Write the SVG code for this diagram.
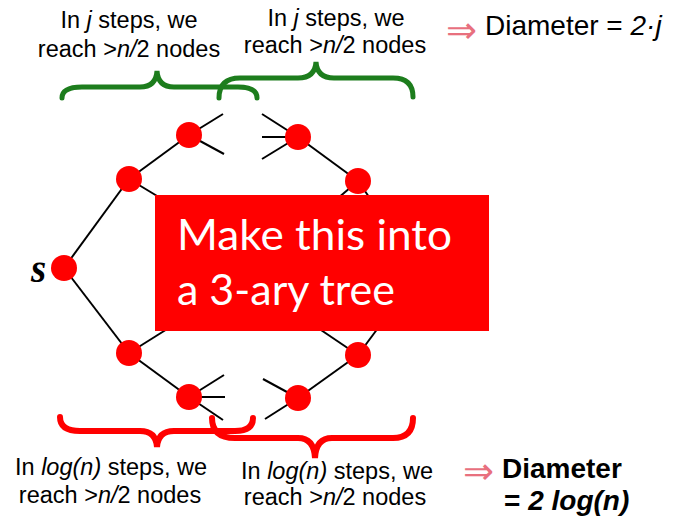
<svg xmlns="http://www.w3.org/2000/svg" width="683" height="519" viewBox="0 0 683 519">
<style>
.edge{stroke:#000;stroke-width:2;fill:none}
.node{fill:#ff0000}
.lbl{font-family:"Liberation Sans",Arial,sans-serif;font-size:23.5px;fill:#000;text-anchor:middle}
.dia{font-family:"Liberation Sans",Arial,sans-serif;font-size:28px;fill:#000}
.arr{font-family:"DejaVu Sans",sans-serif;font-size:37px;fill:#e8707e}
.gb{stroke:#1d7d1d;stroke-width:5;fill:none;stroke-linecap:round}
.rb{stroke:#ff0000;stroke-width:6;fill:none;stroke-linecap:round}
.box{font-family:Lato,"Open Sans",sans-serif;font-size:42px;fill:#fff}
</style>
<rect width="683" height="519" fill="#fff"/>
<g id="connectors">
<line class="edge" x1="64" y1="268" x2="129" y2="179"/>
<line class="edge" x1="64" y1="268" x2="129" y2="353"/>
<line class="edge" x1="129" y1="179" x2="189" y2="135"/>
<line class="edge" x1="129" y1="179" x2="172" y2="205"/>
<line class="edge" x1="189" y1="135" x2="223" y2="114"/>
<line class="edge" x1="189" y1="135" x2="224" y2="154"/>
<line class="edge" x1="262" y1="114" x2="298" y2="137"/>
<line class="edge" x1="262" y1="137" x2="298" y2="137"/>
<line class="edge" x1="262" y1="159" x2="298" y2="137"/>
<line class="edge" x1="298" y1="137" x2="358" y2="181"/>
<line class="edge" x1="358" y1="181" x2="330" y2="205"/>
<line class="edge" x1="358" y1="181" x2="378" y2="210"/>
<line class="edge" x1="129" y1="353" x2="172" y2="326"/>
<line class="edge" x1="129" y1="353" x2="189" y2="397"/>
<line class="edge" x1="189" y1="397" x2="224" y2="375"/>
<line class="edge" x1="189" y1="397" x2="225" y2="397"/>
<line class="edge" x1="189" y1="397" x2="223" y2="420"/>
<line class="edge" x1="263" y1="379" x2="298" y2="398"/>
<line class="edge" x1="265" y1="419" x2="298" y2="398"/>
<line class="edge" x1="298" y1="398" x2="358" y2="355"/>
<line class="edge" x1="358" y1="355" x2="318" y2="328"/>
<line class="edge" x1="358" y1="355" x2="384" y2="320"/>
</g>
<g id="s"><circle class="node" cx="64" cy="268" r="13"/><text x="31" y="282" font-family="'Liberation Serif',serif" font-weight="bold" font-style="italic" font-size="39">s</text></g>
<g id="n1"><circle class="node" cx="129" cy="179" r="13"/></g>
<g id="n2"><circle class="node" cx="189" cy="135" r="13"/></g>
<g id="n3"><circle class="node" cx="298" cy="137" r="13"/></g>
<g id="n4"><circle class="node" cx="358" cy="181" r="13"/></g>
<g id="n5"><circle class="node" cx="129" cy="353" r="13"/></g>
<g id="n6"><circle class="node" cx="189" cy="397" r="13"/></g>
<g id="n7"><circle class="node" cx="298" cy="398" r="13"/></g>
<g id="n8"><circle class="node" cx="358" cy="355" r="13"/></g>
<g id="note">
<rect x="155" y="195" width="334" height="136" fill="#ff0000"/>
<text class="box" x="177" y="250" textLength="275" lengthAdjust="spacingAndGlyphs">Make this into</text>
<text class="box" x="177" y="305" textLength="218" lengthAdjust="spacingAndGlyphs">a 3-ary tree</text>
</g>
<g id="braces">
<path class="gb" d="M62,98 Q62,87 82,87 L140,87 Q156,87 157,71 Q158,87 174,87 L238,87 Q257,87 257,98"/>
<path class="gb" d="M219,98 Q219,78 240,78 L298,78 Q315,78 316,62 Q317,78 334,78 L393,78 Q413,78 413,97"/>
<path class="rb" d="M60,417 Q60,431 80,431 L140,431 Q156,431 157,447 Q158,431 174,431 L235,431 Q253,431 253,418"/>
<path class="rb" d="M212,418 Q212,438 235,438 L298,438 Q314,438 315,458 Q316,438 332,438 L393,438 Q413,438 413,418"/>
</g>
<g id="top-labels">
<text class="lbl" x="129" y="28">In <tspan font-style="italic">j</tspan> steps, we</text>
<text class="lbl" x="129" y="57">reach &gt;<tspan font-style="italic">n/</tspan>2 nodes</text>
<text class="lbl" x="336" y="26">In <tspan font-style="italic">j</tspan> steps, we</text>
<text class="lbl" x="335" y="53">reach &gt;<tspan font-style="italic">n/</tspan>2 nodes</text>
<text class="arr" x="446" y="43">⇒</text>
<text class="dia" x="485" y="35">Diameter = <tspan font-style="italic">2·j</tspan></text>
</g>
<g id="bottom-labels">
<text class="lbl" x="111" y="475">In <tspan font-style="italic">log(n)</tspan> steps, we</text>
<text class="lbl" x="110" y="503">reach &gt;<tspan font-style="italic">n/</tspan>2 nodes</text>
<text class="lbl" x="337" y="479">In <tspan font-style="italic">log(n)</tspan> steps, we</text>
<text class="lbl" x="335" y="505">reach &gt;<tspan font-style="italic">n/</tspan>2 nodes</text>
<text class="arr" x="463" y="484">⇒</text>
<text class="dia" x="502" y="478" font-weight="bold">Diameter</text>
<text class="dia" x="504" y="510" font-weight="bold">= <tspan font-style="italic">2 log(n)</tspan></text>
</g>
</svg>
